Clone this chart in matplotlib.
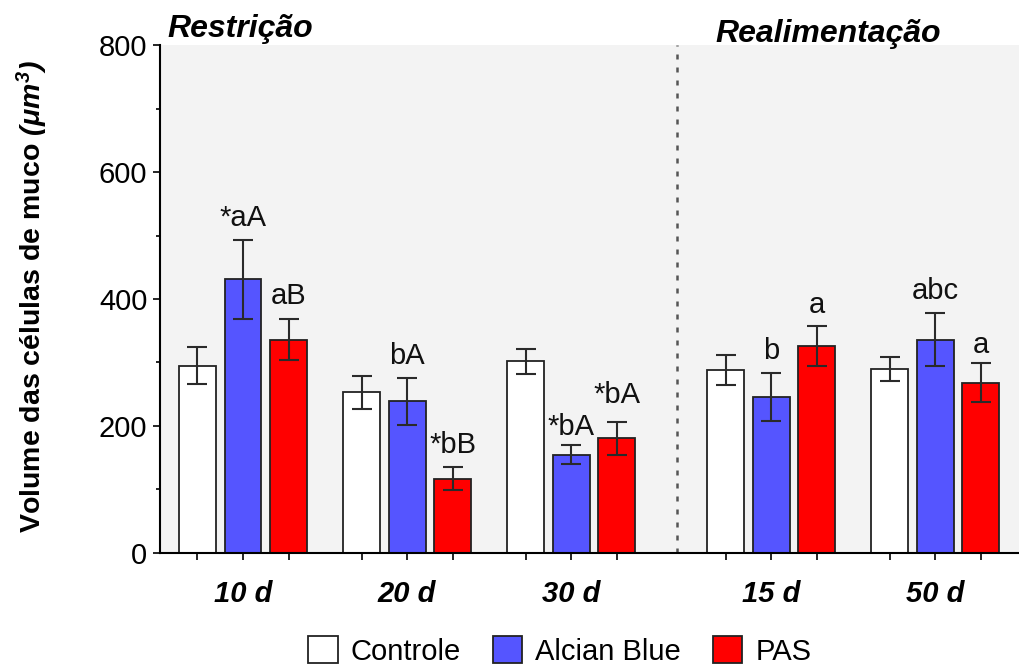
import numpy as np
import matplotlib
matplotlib.use("Agg")
import matplotlib.pyplot as plt
from matplotlib.patches import Patch
import matplotlib.transforms as mtransforms

# ---- data -------------------------------------------------------------
groups = ["10 d", "20 d", "30 d", "15 d", "50 d"]
series = ["Controle", "Alcian Blue", "PAS"]

controle = [295, 253, 302, 288, 290]
controle_err = [29, 26, 20, 24, 19]

alcian = [431, 239, 155, 246, 336]
alcian_err = [62, 37, 15, 38, 42]

pas = [336, 117, 181, 326, 268]
pas_err = [32, 18, 26, 32, 31]

# significance letters, one per bar (group, series index, text)
letters = [
    (0, 1, "*aA"), (0, 2, "aB"),
    (1, 1, "bA"), (1, 2, "*bB"),
    (2, 1, "*bA"), (2, 2, "*bA"),
    (3, 1, "b"), (3, 2, "a"),
    (4, 1, "abc"), (4, 2, "a"),
]
phase_labels = ["Restrição", "Realimentação"]

# ---- style ------------------------------------------------------------
plt.rcParams["font.family"] = ["Liberation Sans", "DejaVu Sans"]
plt.rcParams["mathtext.fontset"] = "custom"
plt.rcParams["mathtext.rm"] = "Liberation Sans:italic:bold"
plt.rcParams["mathtext.it"] = "Liberation Sans:italic:bold"
plt.rcParams["mathtext.bf"] = "Liberation Sans:italic:bold"

colors = ["#FFFFFF", "#5555FF", "#FF0000"]
edge = "#222222"

group_pos = np.array([0.0, 1.0, 2.0, 3.22, 4.22])
offsets = [-0.2775, 0.0, 0.2775]
width = 0.225
letter_dy = [10, 11, 10, 10, 7, 13, 10, 9, 10, 7]   # points above error caps

fig = plt.figure(figsize=(10.19, 6.66), dpi=100)
ax = fig.add_axes([0.157, 0.1697, 0.843, 0.7627])
ax.set_facecolor("#F3F3F3")

vals = [controle, alcian, pas]
errs = [controle_err, alcian_err, pas_err]
for i in range(3):
    x = group_pos + offsets[i]
    ax.bar(x, vals[i], width=width, color=colors[i], edgecolor=edge,
           linewidth=1.3, zorder=2)
    ax.errorbar(x, vals[i], yerr=errs[i], fmt="none", ecolor="#2a2a2a",
                elinewidth=1.5, capsize=7, capthick=1.5, zorder=3)

for (g, s, txt), dy in zip(letters, letter_dy):
    xx = group_pos[g] + offsets[s]
    top = vals[s][g] + errs[s][g]
    ax.annotate(txt, (xx, top), xytext=(0, dy), textcoords="offset points",
                ha="center", va="baseline", fontsize=21, color="#111111")

# divider between the two phases
ax.axvline(2.646, color="#555555", lw=1.8, ls=(0, (2.0, 3.2)), zorder=1)

ax.set_xlim(-0.506, 4.73)
ax.set_ylim(0, 800)
ax.set_yticks([0, 200, 400, 600, 800])
ax.set_yticks(np.arange(100, 800, 200), minor=True)
ax.tick_params(axis="y", which="major", length=5, width=1.2, labelsize=21,
               pad=4, color="black")
ax.tick_params(axis="y", which="minor", length=2.6, width=1.2)

bar_x = np.sort(np.concatenate([group_pos + o for o in offsets]))
ax.set_xticks(bar_x)
ax.set_xticklabels([])
ax.tick_params(axis="x", which="major", length=5, width=1.2, color="black")

for side in ["top", "right"]:
    ax.spines[side].set_visible(False)
for side in ["left", "bottom"]:
    ax.spines[side].set_linewidth(1.5)
    ax.spines[side].set_color("black")

trans = mtransforms.blended_transform_factory(ax.transData, ax.transAxes)
for gx, lab in zip(group_pos, groups):
    ax.text(gx, -0.0807, lab, transform=trans, ha="center", va="center",
            fontsize=21, fontweight="bold", fontstyle="italic")

ax.text(-0.463, 1.0157, phase_labels[0], transform=trans, ha="left",
        va="baseline", fontsize=23, fontweight="bold", fontstyle="italic")
ax.text(3.567, 1.0069, phase_labels[1], transform=trans, ha="center",
        va="baseline", fontsize=23, fontweight="bold", fontstyle="italic")

fig.text(32 / 1019, 1 - 296 / 666, r"Volume das células de muco $(\mu m^3)$",
         rotation=90, ha="center", va="center", fontsize=20.5,
         fontweight="bold")

handles = [Patch(facecolor=c, edgecolor=edge, linewidth=1.3) for c in colors]
fig.legend(handles, series, loc="center", bbox_to_anchor=(560 / 1019, 1 - 651 / 666),
           ncol=3, frameon=False, fontsize=21, handlelength=1.0,
           handleheight=1.0, handletextpad=0.45, columnspacing=1.1,
           borderpad=0.1)

fig.savefig("out.png", dpi=100)
